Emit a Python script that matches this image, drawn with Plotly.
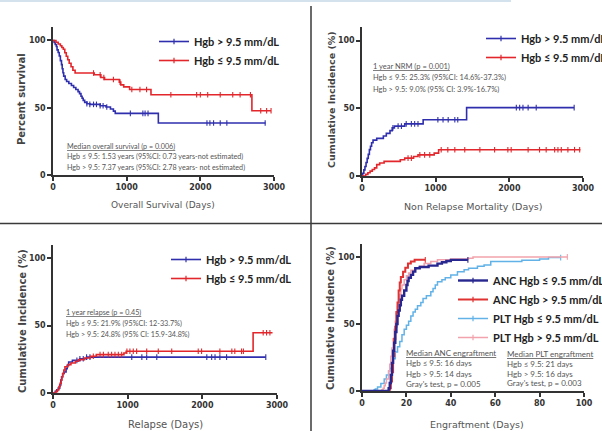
import plotly.graph_objects as go

W, H = 602, 431

# ---------------- DATA ----------------
# Panel 1: Overall survival (%)
os_le_t = [0, 40, 70, 100, 120, 140, 160, 180, 200, 220, 245, 270, 300, 560, 650, 700, 900, 920, 960, 1040, 1330, 2700]
os_le_v = [100, 98.7, 97.4, 96.1, 94.8, 93.5, 90.9, 88.3, 85.7, 83.1, 80.5, 77.9, 75.8, 74.5, 72.5, 71, 69, 67, 65.5, 63.5, 59.7, 47.8]
os_le_end = 2960
os_le_cens = [550, 640, 690, 820, 910, 1070, 1180, 1270, 1600, 1950, 2000, 2100, 2270, 2440, 2540, 2680, 2820, 2900, 2960]

os_gt_t = [0, 15, 30, 45, 55, 70, 85, 100, 115, 125, 135, 145, 165, 185, 215, 250, 280, 310, 340, 360, 380, 395, 410, 430, 460, 500, 640, 720, 780, 820, 845, 1430]
os_gt_v = [100, 98.5, 97, 95.5, 93, 91, 88.5, 85, 82, 79, 76, 73.5, 71, 69.5, 68, 66.5, 65, 63.5, 62, 60.5, 58.5, 57, 55.5, 54, 53, 52.5, 51.5, 50.5, 49, 47.5, 45.8, 38.6]
os_gt_end = 2885
os_gt_cens = [460, 500, 550, 590, 640, 680, 730, 1050, 1220, 1250, 1290, 2090, 2130, 2180, 2270, 2360, 2880]

# Panel 2: Non relapse mortality (%)
nrm_gt_t = [0, 10, 25, 40, 55, 70, 85, 100, 115, 130, 150, 200, 290, 330, 380, 410, 440, 580, 830, 1420]
nrm_gt_v = [0, 2, 4.5, 7, 10, 13, 16, 19.5, 22, 24.5, 26.5, 27.8, 29.5, 31.5, 33.5, 35.5, 36.8, 38.5, 41.5, 50.5]
nrm_gt_end = 2880
nrm_gt_cens = [420, 490, 535, 600, 670, 715, 760, 1030, 1100, 1170, 1260, 1300, 2095, 2140, 2185, 2255, 2365, 2880]

nrm_le_t = [0, 50, 80, 110, 140, 170, 200, 240, 300, 520, 580, 700, 760, 980, 1040]
nrm_le_v = [0, 1.2, 2.4, 3.6, 4.8, 6, 8.4, 9.6, 10.8, 12, 13.2, 14.4, 15.6, 16.9, 19.4]
nrm_le_end = 2965
nrm_le_cens = [625, 670, 785, 850, 920, 1075, 1165, 1260, 1395, 1600, 1800, 1980, 2025, 2255, 2410, 2500, 2615, 2660, 2705, 2795, 2885, 2955]

# Panel 3: Relapse (%)
rel_gt_t = [0, 30, 50, 70, 90, 105, 115, 130, 150, 175, 190, 210, 260, 360, 450]
rel_gt_v = [0, 1.2, 2.4, 3.6, 6, 9.6, 12, 14.4, 15.6, 18, 20.5, 23, 24.2, 25.4, 26.6]
rel_gt_end = 2850
rel_gt_cens = [320, 360, 405, 450, 495, 1055, 1190, 1255, 1390, 2060, 2125, 2170, 2235, 2325, 2850]

rel_le_t = [0, 40, 60, 80, 95, 110, 120, 130, 145, 160, 200, 240, 300, 340, 420, 500, 580, 950, 980, 2680]
rel_le_v = [0, 1.2, 2.4, 4.8, 7.2, 9.6, 12, 14.4, 17, 19.5, 21, 22.2, 23.5, 24.7, 25.9, 27.2, 28.4, 29.6, 30.9, 44.6]
rel_le_end = 2940
rel_le_cens = [540, 630, 675, 740, 785, 830, 875, 920, 990, 1030, 1075, 1120, 1255, 1410, 1590, 1945, 1990, 2235, 2395, 2435, 2525, 2550, 2815, 2860, 2905]

# Panel 4: Engraftment (%)
anc_le_t = [0, 12, 12.5, 13, 13.5, 14, 14.5, 15, 15.5, 16, 16.5, 17, 17.5, 18, 19, 20, 20.5, 21, 22, 23, 24, 26, 30, 34, 36, 38, 40]
anc_le_v = [0, 2, 6, 12, 21, 30, 36, 44, 50, 56, 60, 64, 68, 71, 75, 79, 82, 84.5, 86.6, 89, 91.5, 92.5, 93.5, 95, 96, 97, 97.8]
anc_le_end = 47.7

anc_gt_t = [0, 12.5, 13, 13.5, 14, 14.5, 15, 15.5, 16, 16.5, 17, 17.5, 18.5, 19.5, 20.7, 22, 23.7]
anc_gt_v = [0, 2, 7, 14, 26, 39, 48, 59, 66, 75, 81, 85, 89, 92, 95, 96.5, 97.8]
anc_gt_end = 28.5

plt_le_t = [0, 5.5, 6, 7, 8.5, 10, 11, 12, 12.5, 13.5, 14, 15, 16, 17, 18, 19, 20, 21, 22, 23, 24, 25, 26.5, 27.5, 29, 31, 32, 33, 34, 36, 37.5, 40, 43, 46, 48, 52, 55, 58, 72, 80, 84]
plt_le_v = [0, 1, 1.5, 3, 5.5, 9, 12, 15, 17, 21, 24, 29, 33, 37, 42, 46, 49, 52, 56, 59, 61, 63.5, 66, 69, 71, 74, 76.5, 79, 81.5, 83, 84.5, 86.5, 89, 90.5, 91.5, 93, 94, 96.5, 97.5, 98.5, 99.5]
plt_le_end = 89.5

plt_gt_t = [0, 9, 9.5, 10, 10.5, 11, 12, 12.5, 13, 13.5, 14, 14.5, 15, 15.5, 16, 16.5, 17, 17.5, 18, 19, 20, 21, 22, 24, 26, 28, 31, 34, 40, 48, 50]
plt_gt_v = [0, 1, 2, 4, 6, 9, 15, 20, 26, 32, 39, 46, 52, 58, 63, 68, 72, 76, 79, 83, 86, 88, 90, 91.5, 93, 95, 96.5, 97.8, 98.5, 99, 100]
plt_gt_end = 92.5

# Labels
legend_labels_top = ["Hgb > 9.5 mm/dL", "Hgb \u2264 9.5 mm/dL"]
legend_labels_eng = ["ANC Hgb \u2264 9.5 mm/dL", "ANC Hgb > 9.5 mm/dL", "PLT Hgb \u2264 9.5 mm/dL", "PLT Hgb > 9.5 mm/dL"]
axis_titles_x = ["Overall Survival (Days)", "Non Relapse Mortality (Days)", "Relapse (Days)", "Engraftment (Days)"]
axis_titles_y = ["Percent survival", "Cumulative Incidence (%)", "Cumulative Incidence (%)", "Cumulative Incidence (%)"]
days_ticks = [0, 1000, 2000, 3000]
eng_ticks = [0, 20, 40, 60, 80, 100]
pct_ticks = [0, 50, 100]

notes1 = ["<u>Median overall survival (p = 0.006)</u>",
          "Hgb \u2264 9.5: 1.53 years (95%CI: 0.73 years-not estimated)",
          "Hgb > 9.5: 7.37 years (95%CI: 2.78 years- not estimated)"]
notes2 = ["<u>1 year NRM (p = 0.001)</u>",
          "Hgb \u2264 9.5: 25.3% (95%CI: 14.6%-37.3%)",
          "Hgb > 9.5: 9.0% (95% CI: 3.9%-16.7%)"]
notes3 = ["<u>1 year relapse (p = 0.45)</u>",
          "Hgb \u2264 9.5: 21.9% (95%CI: 12-33.7%)",
          "Hgb > 9.5: 24.8% (95% CI: 15.9-34.8%)"]
notes4a = ["<u>Median ANC engraftment</u>", "Hgb \u2264 9.5: 16 days", "Hgb > 9.5: 14 days", "Gray's test, p = 0.005"]
notes4b = ["<u>Median PLT engraftment</u>", "Hgb \u2264 9.5: 21 days", "Hgb > 9.5: 16 days", "Gray's test, p = 0.003"]

# ---------------- STYLE ----------------
BLUE = "#2f2fae"
RED = "#e2262b"
NAVY = "#27278f"
RED4 = "#e03232"
LBLUE = "#62b2e8"
PINK = "#f2a2ac"
AX = "#333333"


def level_at(ts, vs, t):
    v = vs[0]
    for ti, vi in zip(ts, vs):
        if ti <= t:
            v = vi
    return v


fig = go.Figure()


def add_curve(ts, vs, end, cens, color, width, xa, ya):
    fig.add_trace(go.Scatter(x=ts + [end], y=vs + [vs[-1]], mode="lines",
                             line=dict(color=color, width=width, shape="hv"),
                             xaxis=xa, yaxis=ya, showlegend=False, hoverinfo="skip"))
    if cens:
        fig.add_trace(go.Scatter(x=cens, y=[level_at(ts, vs, c) for c in cens], mode="markers",
                                 marker=dict(symbol="line-ns", size=4, color=color,
                                             line=dict(color=color, width=1.1)),
                                 xaxis=xa, yaxis=ya, showlegend=False, hoverinfo="skip"))


def add_legend_item(name, color, width, xa, ya, leg):
    fig.add_trace(go.Scatter(x=[None], y=[None], mode="lines+markers", name=name,
                             line=dict(color=color, width=width),
                             marker=dict(symbol="line-ns", size=4, color=color,
                                         line=dict(color=color, width=1.2)),
                             xaxis=xa, yaxis=ya, legend=leg, legendgroup=leg + name))


# Panel 1
add_curve(os_gt_t, os_gt_v, os_gt_end, os_gt_cens, BLUE, 1.6, "x", "y")
add_curve(os_le_t, os_le_v, os_le_end, os_le_cens, RED, 1.6, "x", "y")
add_legend_item(legend_labels_top[0], BLUE, 1.6, "x", "y", "legend")
add_legend_item(legend_labels_top[1], RED, 1.6, "x", "y", "legend")
# Panel 2
add_curve(nrm_gt_t, nrm_gt_v, nrm_gt_end, nrm_gt_cens, BLUE, 1.6, "x2", "y2")
add_curve(nrm_le_t, nrm_le_v, nrm_le_end, nrm_le_cens, RED, 1.6, "x2", "y2")
add_legend_item(legend_labels_top[0], BLUE, 1.6, "x2", "y2", "legend2")
add_legend_item(legend_labels_top[1], RED, 1.6, "x2", "y2", "legend2")
# Panel 3
add_curve(rel_gt_t, rel_gt_v, rel_gt_end, rel_gt_cens, BLUE, 1.6, "x3", "y3")
add_curve(rel_le_t, rel_le_v, rel_le_end, rel_le_cens, RED, 1.6, "x3", "y3")
add_legend_item(legend_labels_top[0], BLUE, 1.6, "x3", "y3", "legend3")
add_legend_item(legend_labels_top[1], RED, 1.6, "x3", "y3", "legend3")
# Panel 4
add_curve(plt_le_t, plt_le_v, plt_le_end, [plt_le_end], LBLUE, 1.5, "x4", "y4")
add_curve(plt_gt_t, plt_gt_v, plt_gt_end, [plt_gt_end], PINK, 1.5, "x4", "y4")
add_curve(anc_gt_t, anc_gt_v, anc_gt_end, [anc_gt_end], RED4, 2.0, "x4", "y4")
add_curve(anc_le_t, anc_le_v, anc_le_end, [anc_le_end], NAVY, 2.4, "x4", "y4")
for name, col, w in zip(legend_labels_eng, [NAVY, RED4, LBLUE, PINK], [2.4, 2.0, 1.5, 1.5]):
    add_legend_item(name, col, w, "x4", "y4", "legend4")


def px_x(p):
    return p / W


def px_y(p):
    return 1 - p / H


axis_common = dict(showline=True, linecolor=AX, linewidth=1.6, ticks="outside", ticklen=4,
                   tickwidth=1.5, tickcolor=AX, showgrid=False, zeroline=False,
                   tickfont=dict(family="DejaVu Sans", size=8, color=AX, weight="bold"),
                   fixedrange=True, automargin=False)

panels = [
    ((53, 274), (27, 175), [0, 3000], days_ticks),
    ((362, 583), (27, 176), [0, 3000], days_ticks),
    ((53, 277), (244.5, 393), [0, 3000], days_ticks),
    ((362, 584), (243.5, 391), [0, 100], eng_ticks),
]
for i, (xp, yp, xr, xt) in enumerate(panels):
    sfx = "" if i == 0 else str(i + 1)
    fig.layout["xaxis" + sfx] = dict(axis_common, domain=[px_x(xp[0]), px_x(xp[1])], range=xr,
                                     tickvals=xt, anchor="y" + sfx)
    fig.layout["yaxis" + sfx] = dict(axis_common, domain=[px_y(yp[1]), px_y(yp[0])], range=[0, 110],
                                     tickvals=pct_ticks, anchor="x" + sfx)

annotations = []


def txt(text, x, y, size, color="#555555", weight="normal", xanchor="left", angle=0, family="Lato"):
    annotations.append(dict(text=text, x=px_x(x), y=px_y(y), xref="paper", yref="paper",
                            xanchor=xanchor, yanchor="middle", showarrow=False, textangle=angle,
                            font=dict(family=family, size=size, color=color, weight=weight)))


# axis titles
txt(axis_titles_x[0], 163, 205, 9, "#555555", "normal", "center", family="DejaVu Sans")
txt(axis_titles_x[1], 473, 206, 9.5, "#555555", "normal", "center", family="DejaVu Sans")
txt(axis_titles_x[2], 166, 424.5, 10, "#555555", "normal", "center", family="DejaVu Sans")
txt(axis_titles_x[3], 477, 424.5, 9.5, "#555555", "normal", "center", family="DejaVu Sans")
txt(axis_titles_y[0], 22, 99, 10, "#444444", "bold", "center", -90, "DejaVu Sans")
txt(axis_titles_y[1], 331, 100, 9.5, "#444444", "bold", "center", -90, "DejaVu Sans")
txt(axis_titles_y[2], 22, 321, 10, "#444444", "bold", "center", -90, "DejaVu Sans")
txt(axis_titles_y[3], 330, 318, 10, "#444444", "bold", "center", -90, "DejaVu Sans")

for k, t in enumerate(notes1):
    txt(t, 65, 146 + 10.5 * k, 7.2)
for k, t in enumerate(notes2):
    txt(t, 371, 66 + 11.5 * k, 7.5)
for k, t in enumerate(notes3):
    txt(t, 64, 312 + 11 * k, 7.2)
for k, t in enumerate(notes4a):
    txt(t, 404, 353 + 10.3 * k, 8)
for k, t in enumerate(notes4b):
    txt(t, 505, 354 + 9.8 * k, 8)

legend_common = dict(bgcolor="rgba(0,0,0,0)", borderwidth=0, xanchor="left", yanchor="top",
                     font=dict(family="Lato", size=11, color="#222222", weight="bold"),
                     itemwidth=30, itemclick=False, itemdoubleclick=False)
fig.update_layout(
    legend=dict(legend_common, x=px_x(154), y=px_y(27), tracegroupgap=0),
    legend2=dict(legend_common, x=px_x(481), y=px_y(24), tracegroupgap=0),
    legend3=dict(legend_common, x=px_x(166), y=px_y(245), tracegroupgap=0),
    legend4=dict(legend_common, x=px_x(453), y=px_y(266), tracegroupgap=0),
)

shapes = [
    dict(type="line", xref="paper", yref="paper", x0=px_x(311), x1=px_x(311), y0=0, y1=px_y(6),
         line=dict(color="#3a3a3a", width=1.5)),
    dict(type="line", xref="paper", yref="paper", x0=0, x1=1, y0=px_y(223.5), y1=px_y(223.5),
         line=dict(color="#3a3a3a", width=1.5)),
    dict(type="line", xref="paper", yref="paper", x0=0, x1=px_x(511), y0=px_y(1), y1=px_y(1),
         line=dict(color="#d4e2ee", width=2)),
]

fig.update_layout(width=W, height=H, autosize=False,
                  margin=dict(l=0, r=0, t=0, b=0, autoexpand=False),
                  paper_bgcolor="white", plot_bgcolor="white", annotations=annotations,
                  shapes=shapes, showlegend=True)

fig.write_html("out.html", config={"displayModeBar": False},
               post_script="document.body.style.margin='0';document.body.style.overflow='hidden';")
